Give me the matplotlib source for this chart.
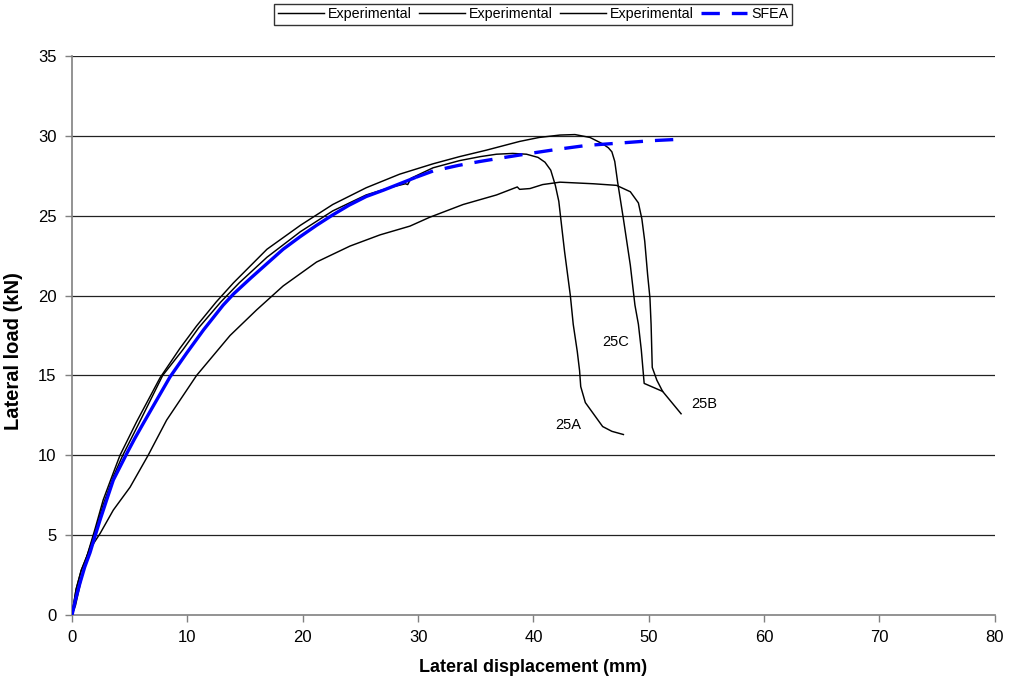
import matplotlib
matplotlib.use("Agg")
import matplotlib.pyplot as plt

plt.rcParams['font.family'] = ['Liberation Sans', 'DejaVu Sans']

# Specimen 25A
x_25a = [0, 0.35, 0.8, 1.3, 2.0, 2.7, 3.6, 4.4, 5.8, 7.86, 9.6, 11.0, 12.9, 14.5,
         16.9, 19.8, 22.6, 25.5, 27.5, 28.9, 29.1, 29.4, 31.3, 33.6, 35.4, 36.8,
         38.2, 39.4, 40.4, 41.0, 41.5, 41.9, 42.2, 42.5, 42.7, 43.2, 43.45, 43.8,
         44.0, 44.1, 44.5, 45.2, 46.0, 46.8, 47.8]
y_25a = [0, 1.6, 2.8, 3.7, 5.2, 6.9, 8.7, 10.0, 12.0, 15.0, 16.6, 18.0, 19.6, 20.8,
         22.4, 24.0, 25.3, 26.3, 26.75, 27.0, 26.95, 27.35, 28.0, 28.45, 28.7, 28.85,
         28.9, 28.85, 28.65, 28.35, 27.85, 26.9, 25.9, 24.0, 22.75, 20.0, 18.2, 16.5,
         15.3, 14.3, 13.3, 12.6, 11.8, 11.5, 11.3]

# Specimen 25B
x_25b = [0, 0.3, 0.7, 1.3, 1.8, 2.43, 3.58, 5.03, 6.6, 8.2, 10.8, 13.7, 16.0, 18.3,
         21.2, 24.1, 26.7, 29.3, 31.0, 33.9, 36.8, 38.6, 38.8, 39.7, 40.8, 42.3,
         45.2, 47.2, 48.4, 49.1, 49.4, 49.65, 49.9, 50.1, 50.2, 50.3, 50.7, 51.2,
         52.0, 52.8]
y_25b = [0, 0.6, 1.9, 3.7, 4.4, 5.1, 6.57, 8.0, 10.0, 12.2, 15.0, 17.5, 19.1, 20.6,
         22.1, 23.1, 23.8, 24.35, 24.9, 25.7, 26.3, 26.8, 26.65, 26.7, 26.95, 27.1,
         27.0, 26.9, 26.5, 25.8, 24.8, 23.4, 21.3, 19.85, 18.2, 15.5, 14.7, 14.0,
         13.3, 12.6]

# Specimen 25C
x_25c = [0, 0.35, 0.8, 1.3, 2.0, 2.7, 3.58, 4.16, 5.6, 7.63, 9.36, 10.8, 12.5, 14.0,
         16.9, 19.8, 22.6, 25.5, 28.4, 31.3, 33.6, 35.9, 38.8, 40.5, 42.3, 43.6,
         44.9, 46.0, 46.5, 46.8, 47.05, 47.3, 47.8, 48.4, 48.8, 49.1, 49.35, 49.6,
         50.4, 51.2]
y_25c = [0, 1.6, 2.8, 3.7, 5.4, 7.2, 8.9, 10.0, 12.1, 14.85, 16.7, 18.1, 19.6, 20.8,
         22.9, 24.4, 25.7, 26.75, 27.6, 28.25, 28.7, 29.1, 29.65, 29.9, 30.05, 30.08,
         29.9, 29.5, 29.25, 29.0, 28.4, 27.1, 24.8, 21.9, 19.4, 18.2, 16.6, 14.5,
         14.25, 14.0]

# SFEA prediction
x_sfea = [0, 0.3, 0.69, 1.1, 1.56, 2.0, 2.43, 3.0, 3.58, 4.74, 5.4, 6.18, 7.34, 8.49,
          9.94, 11.4, 13.1, 14.0, 15.5, 16.9, 18.3, 19.8, 21.2, 22.6, 24.0, 25.5,
          27.0, 28.4, 29.8, 31.3, 33.5, 35.4, 37.5, 39.7, 42.0, 44.6, 47.5, 50.3, 53.1]
y_sfea = [0, 0.95, 2.0, 3.0, 3.9, 4.95, 5.95, 7.2, 8.45, 10.1, 11.0, 12.0, 13.46, 14.9,
          16.4, 17.85, 19.4, 20.1, 21.1, 22.0, 22.9, 23.7, 24.4, 25.05, 25.65, 26.2,
          26.6, 27.0, 27.4, 27.8, 28.15, 28.4, 28.65, 28.9, 29.15, 29.4, 29.55, 29.7,
          29.8]
sfea_solid_end = 29  # densely sampled part renders as a continuous stroke

specimen_labels = ["25A", "25B", "25C"]
label_pos_x = [43.0, 54.8, 47.1]
label_pos_y = [11.9, 13.2, 17.1]

x_ticks = [0, 10, 20, 30, 40, 50, 60, 70, 80]
y_ticks = [0, 5, 10, 15, 20, 25, 30, 35]

fig = plt.figure(figsize=(10.10, 6.87), dpi=100)
ax = fig.add_axes([0.0713, 0.1048, 0.9137, 0.8137])

for y in y_ticks[1:]:
    ax.axhline(y, color="#222222", lw=0.9, zorder=1)

black_kw = dict(color="black", lw=1.05, zorder=3, solid_joinstyle="round")
l1, = ax.plot(x_25a, y_25a, label="Experimental", **black_kw)
l2, = ax.plot(x_25b, y_25b, label="Experimental", **black_kw)
l3, = ax.plot(x_25c, y_25c, label="Experimental", **black_kw)
ax.plot(x_sfea[:sfea_solid_end], y_sfea[:sfea_solid_end], color="#0000ff", lw=2.4,
        zorder=4, solid_capstyle="butt", solid_joinstyle="round")
l4, = ax.plot(x_sfea[sfea_solid_end - 1:], y_sfea[sfea_solid_end - 1:], color="#0000ff",
              lw=2.4, ls=(0, (5.5, 3.6)), zorder=4, label="SFEA")

for name, lx, ly in zip(specimen_labels, label_pos_x, label_pos_y):
    ax.text(lx, ly, name, fontsize=10.5, ha="center", va="center", zorder=5)

ax.set_xlim(0, 80)
ax.set_ylim(0, 35)
ax.set_xticks(x_ticks)
ax.set_yticks(y_ticks)
ax.tick_params(axis="both", direction="out", length=5, width=1, color="#808080",
               labelsize=12, pad=6)
for side in ("top", "right"):
    ax.spines[side].set_visible(False)
for side in ("left", "bottom"):
    ax.spines[side].set_color("#808080")
    ax.spines[side].set_linewidth(1.2)

ax.set_xlabel("Lateral displacement (mm)", fontsize=13, fontweight="bold", labelpad=10)
ax.set_ylabel("Lateral load (kN)", fontsize=14.5, fontweight="bold")
ax.yaxis.set_label_coords(-0.053, 0.472)

leg = fig.legend(handles=[l1, l2, l3, l4], loc="center", bbox_to_anchor=(0.528, 0.979),
                 ncol=4, frameon=True, fancybox=False, edgecolor="black",
                 fontsize=10.3, handlelength=3.2, handletextpad=0.3, columnspacing=0.5,
                 borderpad=0.25)
leg.get_frame().set_linewidth(1.0)

fig.savefig("out.png", dpi=100)
